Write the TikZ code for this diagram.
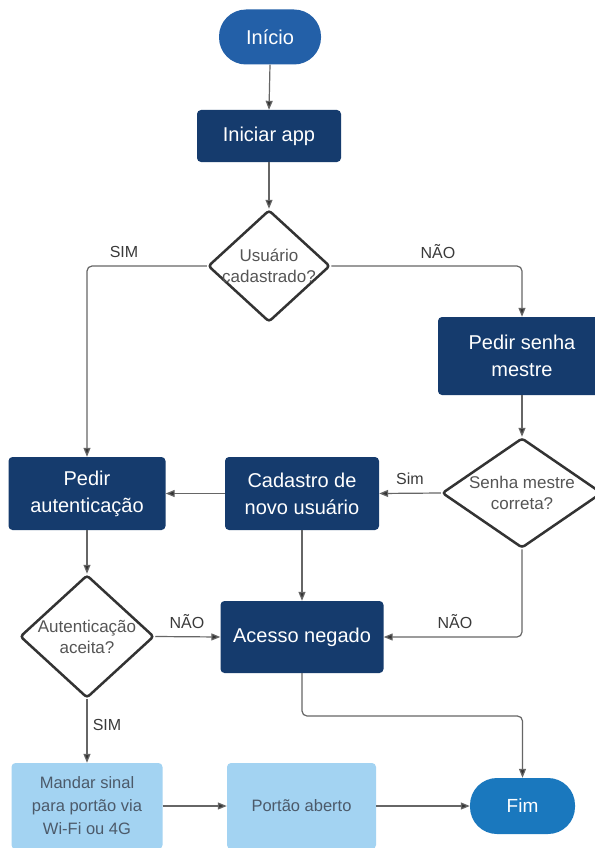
\documentclass[tikz,border=0pt]{standalone}
\usepackage{fontspec}
\setmainfont{Liberation Sans}
\usetikzlibrary{shapes.geometric,arrows.meta,calc}
\definecolor{cstart}{HTML}{2360A8}
\definecolor{cnavy}{HTML}{153B6D}
\definecolor{clight}{HTML}{A3D3F2}
\definecolor{cfim}{HTML}{1A78BE}
\definecolor{clighttext}{HTML}{4C5A6A}
\definecolor{cdtext}{HTML}{555555}
\definecolor{clabel}{HTML}{3A3A3A}
\definecolor{cline}{HTML}{666666}
\definecolor{cdia}{HTML}{333333}
\tikzset{
  term/.style={draw=none, rounded corners=27pt, text=white, font=\fontsize{20}{24}\selectfont, inner sep=0pt},
  navy/.style={fill=cnavy, rounded corners=4pt, text=white, align=center, inner sep=0pt,
    font=\fontsize{20}{27}\selectfont},
  lightbox/.style={fill=clight, rounded corners=4pt, text=clighttext, align=center, inner sep=0pt,
    font=\fontsize{16.5}{23}\selectfont},
  dia/.style={shape=diamond, draw=cdia, line width=2.5pt, fill=white, inner sep=0pt, rounded corners=3pt},
  dtext/.style={text=cdtext, align=center, inner sep=0pt, font=\fontsize{17}{21}\selectfont},
  lbl/.style={text=clabel, inner sep=0pt, font=\fontsize{16}{19}\selectfont},
  conn/.style={draw=cline, line width=1.2pt, rounded corners=5pt, -{Triangle[length=9pt,width=7pt,fill=cdia]}},
}
\begin{document}
\begin{tikzpicture}[x=1pt,y=-1pt]
\useasboundingbox (0,0) rectangle (594,848);
\fill[white] (0,0) rectangle (594,848);

% nodes
\node[term, fill=cstart, minimum width=102pt, minimum height=55pt] (inicio) at (270,37) {Início};
\node[navy, minimum width=144pt, minimum height=52pt] (iniciar) at (269,136) {Iniciar app};
\node[dia, minimum width=122pt, minimum height=112pt] (ud) at (269,266) {};
\node[dtext] (udt) at (269,266) {Usuário\\cadastrado?};
\node[navy, minimum width=168pt, minimum height=78pt] (ps) at (522,356) {Pedir senha\\mestre};
\node[dia, minimum width=160pt, minimum height=110pt] (sd) at (522,493) {};
\node[dtext] (sdt) at (522,493) {Senha mestre\\correta?};
\node[navy, minimum width=157pt, minimum height=73pt] (pa) at (87,493.5) {Pedir\\autenticação};
\node[navy, minimum width=154pt, minimum height=73pt] (cad) at (302,493.5) {Cadastro de\\novo usuário};
\node[dia, minimum width=134pt, minimum height=123pt] (ad) at (87,636.5) {};
\node[dtext] (adt) at (87,636.5) {Autenticação\\aceita?};
\node[navy, minimum width=163pt, minimum height=72pt] (an) at (302,637) {Acesso negado};
\node[lightbox, minimum width=151pt, minimum height=86pt] (ms) at (87,806) {Mandar sinal\\para portão via\\Wi-Fi ou 4G};
\node[lightbox, minimum width=149pt, minimum height=86pt] (pt) at (301.5,806) {Portão aberto};
\node[term, fill=cfim, minimum width=105pt, minimum height=56pt, font=\fontsize{19}{23}\selectfont] (fim) at (522.5,806) {Fim};

% connectors
\draw[conn] (inicio.south) -- (iniciar.north);
\draw[conn] (iniciar.south) -- (ud.north);
\draw[conn] (ud.west) -| (pa.north);
\draw[conn] (ud.east) -| (ps.north);
\draw[conn] (ps.south) -- (sd.north);
\draw[conn] (sd.west) -- (cad.east);
\draw[conn] (cad.west) -- (pa.east);
\draw[conn] (cad.south) -- (an.north);
\draw[conn] (sd.south) |- (an.east);
\draw[conn] (pa.south) -- (ad.north);
\draw[conn] (ad.east) -- (an.west);
\draw[conn] (ad.south) -- (ms.north);
\draw[conn] (ms.east) -- (pt.west);
\draw[conn] (pt.east) -- (fim.west);
\coordinate (turn) at (302,716);
\draw[conn] (an.south) -- (turn) -| (fim.north);

% labels
\node[lbl] (l1) at (124,252) {SIM};
\node[lbl] (l2) at (438,252) {NÃO};
\node[lbl] (l3) at (410,479) {Sim};
\node[lbl] (l4) at (455,622) {NÃO};
\node[lbl] (l5) at (187,622) {NÃO};
\node[lbl] (l6) at (107,725) {SIM};
\end{tikzpicture}
\end{document}
